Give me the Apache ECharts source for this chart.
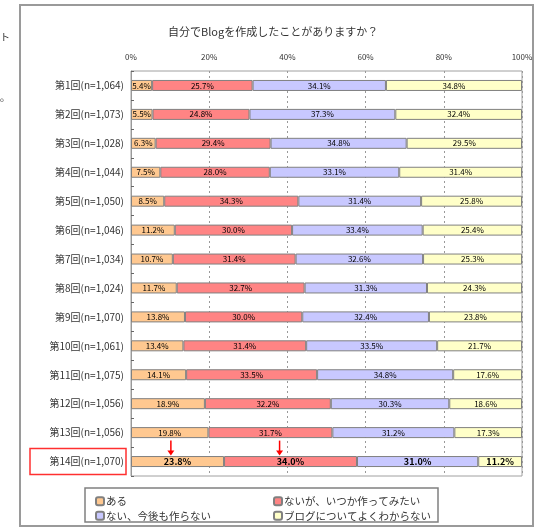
<!DOCTYPE html>
<html>
<head>
<meta charset="utf-8">
<script src="https://cdn.jsdelivr.net/npm/echarts@6/dist/echarts.min.js"></script>
<style>
html,body{margin:0;padding:0;background:#fff;}
#c{width:550px;height:530px;}
</style>
</head>
<body>
<div id="c"></div>
<script>
const titleText = '自分でBlogを作成したことがありますか？';
const categories = ['第1回(n=1,064)','第2回(n=1,073)','第3回(n=1,028)','第4回(n=1,044)','第5回(n=1,050)','第6回(n=1,046)','第7回(n=1,034)','第8回(n=1,024)','第9回(n=1,070)','第10回(n=1,061)','第11回(n=1,075)','第12回(n=1,056)','第13回(n=1,056)','第14回(n=1,070)'];
const seriesNames = ['ある','ないが、いつか作ってみたい','ない、今後も作らない','ブログについてよくわからない'];
const aru = [5.4,5.5,6.3,7.5,8.5,11.2,10.7,11.7,13.8,13.4,14.1,18.9,19.8,23.8];
const naiTsukuritai = [25.7,24.8,29.4,28.0,34.3,30.0,31.4,32.7,30.0,31.4,33.5,32.2,31.7,34.0];
const naiTsukuranai = [34.1,37.3,34.8,33.1,31.4,33.4,32.6,31.3,32.4,33.5,34.8,30.3,31.2,31.0];
const wakaranai = [34.8,32.4,29.5,31.4,25.8,25.4,25.3,24.3,23.8,21.7,17.6,18.6,17.3,11.2];
const xTicks = [0,20,40,60,80,100];
// arrow annotations (x in %, between the last two rows)
const arrowX = [10.2, 38.0];

const colors = ['#FFC890','#FF8484','#C8C8FF','#FFFFC8'];
const FONT = '"Noto Sans CJK JP", sans-serif';
const values = [aru, naiTsukuritai, naiTsukuranai, wakaranai];
const last = categories.length - 1;

const series = values.map((arr, si) => ({
  name: seriesNames[si],
  type: 'bar',
  stack: 'total',
  barWidth: 11,
  itemStyle: {color: colors[si], borderColor: '#808080', borderWidth: 1},
  label: {
    show: true, position: 'inside', color: '#000', fontSize: 8, fontFamily: FONT,
    formatter: p => p.value.toFixed(1) + '%'
  },
  data: arr.map((v, i) => i === last ? {value: v, label: {fontWeight: 'bold', fontSize: 9}} : v)
}));

const chart = echarts.init(document.getElementById('c'));
chart.setOption({
  animation: false,
  title: {text: titleText, left: 163, top: 21, textStyle: {fontSize: 11, fontWeight: 'normal', color: '#333', fontFamily: FONT}},
  grid: {left: 131, right: 28, top: 71, bottom: 54, show: true, borderColor: '#a0a0a0', borderWidth: 1},
  xAxis: {
    type: 'value', position: 'top', min: 0, max: 100, interval: 20,
    axisLine: {show: false}, axisTick: {show: false},
    axisLabel: {formatter: v => xTicks.includes(v) ? v + '%' : '', fontSize: 8, color: '#333', margin: 10, fontFamily: FONT},
    splitLine: {show: true, lineStyle: {type: [2,3], color: '#999'}}
  },
  yAxis: {
    type: 'category', inverse: true, data: categories,
    axisLine: {show: true, lineStyle: {color: '#999'}},
    axisTick: {show: true, inside: true, length: 3, lineStyle: {color: '#666'}},
    axisLabel: {fontSize: 10, color: '#333', margin: 7, fontFamily: FONT}
  },
  legend: [
    {data: [seriesNames[0], seriesNames[2]], orient: 'vertical', left: 90, top: 491, itemWidth: 8, itemHeight: 8, itemGap: 4,
     textStyle: {fontSize: 10.5, color: '#333', fontFamily: FONT, padding: [0,0,0,-3]}},
    {data: [seriesNames[1], seriesNames[3]], orient: 'vertical', left: 268, top: 491, itemWidth: 8, itemHeight: 8, itemGap: 4,
     textStyle: {fontSize: 10.5, color: '#333', fontFamily: FONT, padding: [0,0,0,-3]}}
  ],
  series: series
});

// decorations computed from the chart's own scales
const rowTop = chart.convertToPixel({gridIndex: 0}, [0, last - 1]);
const rowBot = chart.convertToPixel({gridIndex: 0}, [0, last]);
const y0 = rowTop[1] + 8, y1 = rowBot[1] - 6;
const gfx = [
  {type: 'rect', shape: {x: 20, y: 5, width: 513, height: 521}, style: {fill: 'none', stroke: '#9a9a9a', lineWidth: 2}, z: -1},
  {type: 'rect', shape: {x: 85, y: 488, width: 353, height: 34}, style: {fill: 'none', stroke: '#808080', lineWidth: 1.5}},
  {type: 'rect', shape: {x: 30, y: rowBot[1] - 13, width: 96, height: 26}, style: {fill: 'none', stroke: '#ff3030', lineWidth: 1.5}},
  {type: 'text', left: 0, top: 32, style: {text: 'ト', fontSize: 10, fill: '#333', fontFamily: FONT}},
  {type: 'text', left: 0, top: 92, style: {text: '。', fontSize: 10, fill: '#333', fontFamily: FONT}}
];
arrowX.forEach(ax => {
  const px = chart.convertToPixel({gridIndex: 0}, [ax, last])[0];
  gfx.push({type: 'line', shape: {x1: px, y1: y0, x2: px, y2: y1 - 4}, style: {stroke: '#ff0000', lineWidth: 1.5}});
  gfx.push({type: 'polygon', shape: {points: [[px - 3.5, y1 - 5], [px + 3.5, y1 - 5], [px, y1]]}, style: {fill: '#ff0000'}});
});
chart.setOption({graphic: gfx});
</script>
</body>
</html>
